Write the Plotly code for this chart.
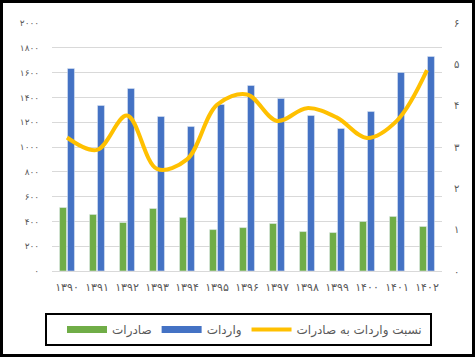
import plotly.graph_objects as go

years = ["۱۳۹۰", "۱۳۹۱", "۱۳۹۲", "۱۳۹۳", "۱۳۹۴", "۱۳۹۵", "۱۳۹۶",
         "۱۳۹۷", "۱۳۹۸", "۱۳۹۹", "۱۴۰۰", "۱۴۰۱", "۱۴۰۲"]
exports = [512, 456, 391, 504, 432, 334, 350, 383, 318, 310, 399, 440, 359]
imports = [1633, 1335, 1472, 1246, 1165, 1343, 1496, 1391, 1254, 1149, 1286, 1601, 1730]
ratio = [3.23, 2.93, 3.76, 2.47, 2.70, 4.02, 4.27, 3.63, 3.94, 3.71, 3.22, 3.64, 4.86]

left_vals = [0, 200, 400, 600, 800, 1000, 1200, 1400, 1600, 1800, 2000]
left_text = ["۰", "۲۰۰", "۴۰۰", "۶۰۰", "۸۰۰", "۱۰۰۰", "۱۲۰۰", "۱۴۰۰", "۱۶۰۰", "۱۸۰۰", "۲۰۰۰"]
right_vals = [0, 1, 2, 3, 4, 5, 6]
right_text = ["۰", "۱", "۲", "۳", "۴", "۵", "۶"]

name_exp = "صادرات"
name_imp = "واردات"
name_ratio = "نسبت واردات به صادرات"

GREEN = "#70AD47"
BLUE = "#4472C4"
YELLOW = "#FFC000"
GRAY = "#595959"
FONT = "DejaVu Sans"

W, H = 475, 357
L, R, T, B = 52, 33, 23, 86
PW, PH = W - L - R, H - T - B

def px_x(p):
    return (p - L) / PW

def px_y(p):
    return (H - B - p) / PH

fig = go.Figure()
fig.add_trace(go.Bar(x=years, y=exports, name=name_exp, marker_color=GREEN,
                     showlegend=False))
fig.add_trace(go.Bar(x=years, y=imports, name=name_imp, marker_color=BLUE,
                     showlegend=False))
fig.add_trace(go.Scatter(x=years, y=ratio, name=name_ratio, yaxis="y2",
                         mode="lines", line=dict(color=YELLOW, width=4, shape="spline"),
                         showlegend=False))
# legend entries
fig.add_trace(go.Scatter(x=[None], y=[None], name=name_exp, mode="lines",
                         line=dict(color=GREEN, width=7)))
fig.add_trace(go.Scatter(x=[None], y=[None], name=name_imp, mode="lines",
                         line=dict(color=BLUE, width=7)))
fig.add_trace(go.Scatter(x=[None], y=[None], name=name_ratio, mode="lines",
                         line=dict(color=YELLOW, width=4)))

fig.update_layout(
    width=W, height=H,
    margin=dict(l=L, r=R, t=T, b=B),
    paper_bgcolor="white", plot_bgcolor="white",
    font=dict(family=FONT, color=GRAY, size=10),
    barmode="group", bargap=0.47, bargroupgap=0.125,
    xaxis=dict(showgrid=False, showline=True, linecolor="#D9D9D9", linewidth=1,
               tickfont=dict(size=11, color=GRAY), ticks="outside", ticklen=6,
               tickcolor="rgba(0,0,0,0)", tickangle=0),
    yaxis=dict(range=[0, 2000], tickvals=left_vals, ticktext=left_text,
               showgrid=True, gridcolor="#D9D9D9", gridwidth=1, zeroline=False,
               ticks="outside", ticklen=10, tickcolor="rgba(0,0,0,0)",
               tickfont=dict(size=9, color=GRAY)),
    yaxis2=dict(range=[0, 6], tickvals=right_vals, ticktext=right_text,
                overlaying="y", side="right", showgrid=False, zeroline=False,
                ticks="outside", ticklen=9, tickcolor="rgba(0,0,0,0)",
                tickfont=dict(size=10, color=GRAY)),
    legend=dict(orientation="h", x=px_x(62), xanchor="left", y=px_y(329.5),
                yanchor="middle", bgcolor="rgba(0,0,0,0)", borderwidth=0,
                font=dict(size=12, color=GRAY), itemwidth=40, traceorder="normal"),
    shapes=[
        dict(type="rect", xref="paper", yref="paper",
             x0=px_x(46), x1=px_x(431), y0=px_y(345), y1=px_y(314),
             line=dict(color="black", width=2), fillcolor="rgba(0,0,0,0)"),
        dict(type="rect", xref="paper", yref="paper",
             x0=px_x(1.5), x1=px_x(473.5), y0=px_y(355.5), y1=px_y(1.5),
             line=dict(color="black", width=3), fillcolor="rgba(0,0,0,0)"),
    ],
)

fig.write_html("out.html")
